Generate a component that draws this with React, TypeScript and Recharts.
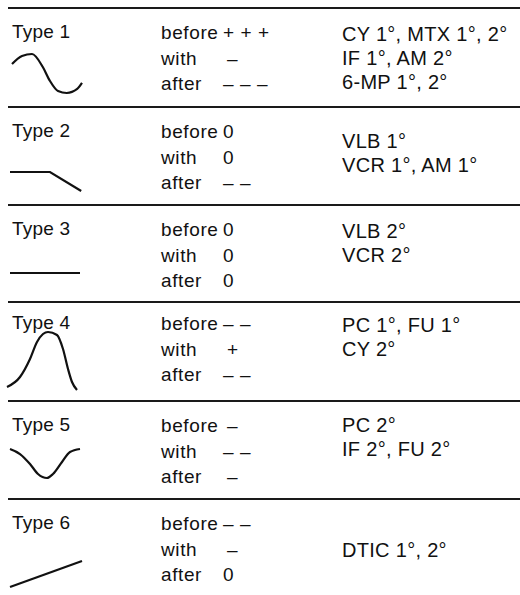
import React from "react";
import { Line, LineChart, XAxis, YAxis } from "recharts";

// table content
const typeLabels = ["Type 1", "Type 2", "Type 3", "Type 4", "Type 5", "Type 6"];
const phases = ["before", "with", "after"];
const effects = [
  ["+++", "–", "–––"],
  ["0", "0", "––"],
  ["0", "0", "0"],
  ["––", "+", "––"],
  ["–", "––", "–"],
  ["––", "–", "0"],
];
const agents = [
  ["CY 1°, MTX 1°, 2°", "IF 1°, AM 2°", "6-MP 1°, 2°"],
  ["VLB 1°", "VCR 1°, AM 1°", ""],
  ["VLB 2°", "VCR 2°", ""],
  ["PC 1°, FU 1°", "CY 2°", ""],
  ["PC 2°", "IF 2°, FU 2°", ""],
  ["", "DTIC 1°, 2°", ""],
];

// curve shapes (x: 0..10 time, y: 0..12 level)
const curve1X = [0.75, 2, 3.25, 4.6, 5.5, 6.5, 7.6, 8.9, 9.5];
const curve1Y = [6.33, 7.67, 8, 5.83, 3.5, 1.83, 1.5, 2.17, 3.17];
const curve2X = [0.5, 5.5, 9.4];
const curve2Y = [4.83, 4.83, 1.67];
const curve3X = [0.5, 9.25];
const curve3Y = [4.33, 4.33];
const curve4X = [0.125, 1.75, 3, 3.875, 4.625, 5.25, 6.375, 7.125, 7.75, 8.25, 8.875];
const curve4Y = [2, 3.67, 6.67, 9.5, 10.83, 11.17, 10.67, 8.33, 5, 2.83, 1.5];
const curve5X = [0.5, 1.75, 3, 4, 5.125, 5.875, 7, 8, 9.25];
const curve5Y = [7.67, 6.83, 5.17, 3.5, 2.83, 3.5, 5.5, 7.17, 7.67];
const curve6X = [0.5, 9.5];
const curve6Y = [1, 5.33];

const curves = [
  { xs: curve1X, ys: curve1Y, smooth: true },
  { xs: curve2X, ys: curve2Y, smooth: false },
  { xs: curve3X, ys: curve3Y, smooth: false },
  { xs: curve4X, ys: curve4Y, smooth: true },
  { xs: curve5X, ys: curve5Y, smooth: true },
  { xs: curve6X, ys: curve6Y, smooth: false },
];

const rowTops = [8, 107, 205, 302, 401, 499];
const textShift = [0, 0, 0, -3, 0, 0];
const noteShift = [2, 10, 2, 2, 0, 3];
const iconShift = [0, 0, 0, 3, 0, 0];
const FONT = "'Liberation Sans', Arial, Helvetica, sans-serif";

function Icon({ idx }: { idx: number }) {
  const c = curves[idx];
  const data = c.xs.map((x, i) => ({ x, y: c.ys[i] }));
  return (
    <div style={{ position: "absolute", left: 6, top: rowTops[idx] + 22 + iconShift[idx] }}>
      <LineChart width={80} height={72} data={data} margin={{ top: 0, right: 0, bottom: 0, left: 0 }}>
        <XAxis dataKey="x" type="number" domain={[0, 10]} hide />
        <YAxis type="number" domain={[0, 12]} hide />
        <Line
          dataKey="y"
          type={c.smooth ? "monotone" : "linear"}
          stroke="#111"
          strokeWidth={2.2}
          dot={false}
          isAnimationActive={false}
        />
      </LineChart>
    </div>
  );
}

export default function App() {
  return (
    <div style={{ position: "absolute", left: 0, top: 0, width: 520, height: 595, background: "#fff" }}>
      <svg width={520} height={595} style={{ position: "absolute", left: 0, top: 0 }}>
        {rowTops.map((t) => (
          <line key={t} x1={8} x2={520} y1={t} y2={t} stroke="#1a1a1a" strokeWidth={1.8} />
        ))}
        {typeLabels.map((label, r) => {
          const t = rowTops[r] + textShift[r];
          return (
            <g key={label} fontFamily={FONT} fontSize={19} fill="#111">
              <text x={12} y={t + 30} letterSpacing={0.2}>
                {label}
              </text>
              {phases.map((p, i) => (
                <text key={p} x={161} y={t + 31 + i * 25.5} letterSpacing={0.6}>
                  {p}
                </text>
              ))}
              {effects[r].map((s, i) => (
                <text key={i} x={s.length === 1 && s !== "0" ? 227 : 223} y={t + 31 + i * 25.5} letterSpacing={6.4}>
                  {s}
                </text>
              ))}
              {agents[r].map((a, i) =>
                a ? (
                  <text key={i} x={342} y={t + 31 + noteShift[r] + i * 24} fontSize={20} letterSpacing={0.3}>
                    {a}
                  </text>
                ) : null
              )}
            </g>
          );
        })}
      </svg>
      {curves.map((_, i) => (
        <Icon key={i} idx={i} />
      ))}
    </div>
  );
}
